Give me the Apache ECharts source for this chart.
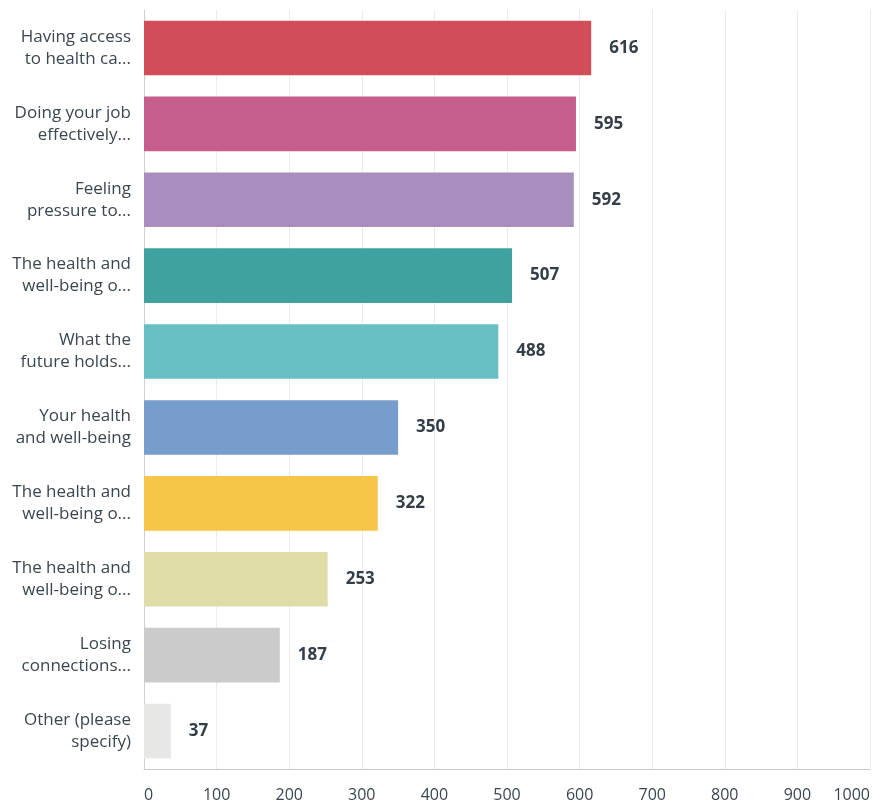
<!DOCTYPE html>
<html>
<head>
<meta charset="utf-8">
<script src="https://cdn.jsdelivr.net/npm/echarts@6/dist/echarts.min.js"></script>
<style>
html,body{margin:0;padding:0;background:#fff;}
#chart{width:874px;height:807px;}
</style>
</head>
<body>
<div id="chart"></div>
<script>
const categories = [
  "Having access\nto health ca...",
  "Doing your job\neffectively...",
  "Feeling\npressure to...",
  "The health and\nwell-being o...",
  "What the\nfuture holds...",
  "Your health\nand well-being",
  "The health and\nwell-being o...",
  "The health and\nwell-being o...",
  "Losing\nconnections...",
  "Other (please\nspecify)"
];
const values = [616, 595, 592, 507, 488, 350, 322, 253, 187, 37];
const barColors = ["#d14e59", "#c55e8a", "#a98dbe", "#3fa29f", "#67bfc3", "#769dcc", "#f7c547", "#dedda7", "#cbcbcb", "#e7e8e5"];
const xTicks = [0, 100, 200, 300, 400, 500, 600, 700, 800, 900, 1000];

const font = "Open Sans";
const chart = echarts.init(document.getElementById('chart'));
chart.setOption({
  animation: false,
  backgroundColor: '#fff',
  grid: { left: 144, right: 4, top: 10, bottom: 38, containLabel: false },
  xAxis: {
    type: 'value',
    min: xTicks[0],
    max: xTicks[xTicks.length - 1],
    interval: xTicks[1] - xTicks[0],
    axisLine: { show: true, lineStyle: { color: '#c8c8c8', width: 1 } },
    axisTick: { show: false },
    splitLine: { show: true, lineStyle: { color: '#ebebeb', width: 1 } },
    axisLabel: {
      margin: 18, fontSize: 16, color: '#3b4650', fontFamily: font,
      alignMinLabel: 'left', alignMaxLabel: 'right',
      formatter: v => String(v)
    }
  },
  yAxis: {
    type: 'category',
    inverse: true,
    data: categories,
    axisLine: { show: true, lineStyle: { color: '#d0d0d0', width: 1 } },
    axisTick: { show: false },
    splitLine: { show: false },
    axisLabel: {
      margin: 13, fontSize: 17, lineHeight: 22, color: '#3b4650', fontFamily: font, align: 'right'
    }
  },
  series: [{
    type: 'bar',
    data: values.map((v, i) => ({ value: v, itemStyle: { color: barColors[i] } })),
    barCategoryGap: '28%',
    label: {
      show: true, position: 'right', distance: 18,
      fontSize: 17, fontWeight: 'bold', color: '#333e48', fontFamily: font
    }
  }]
});
</script>
</body>
</html>
